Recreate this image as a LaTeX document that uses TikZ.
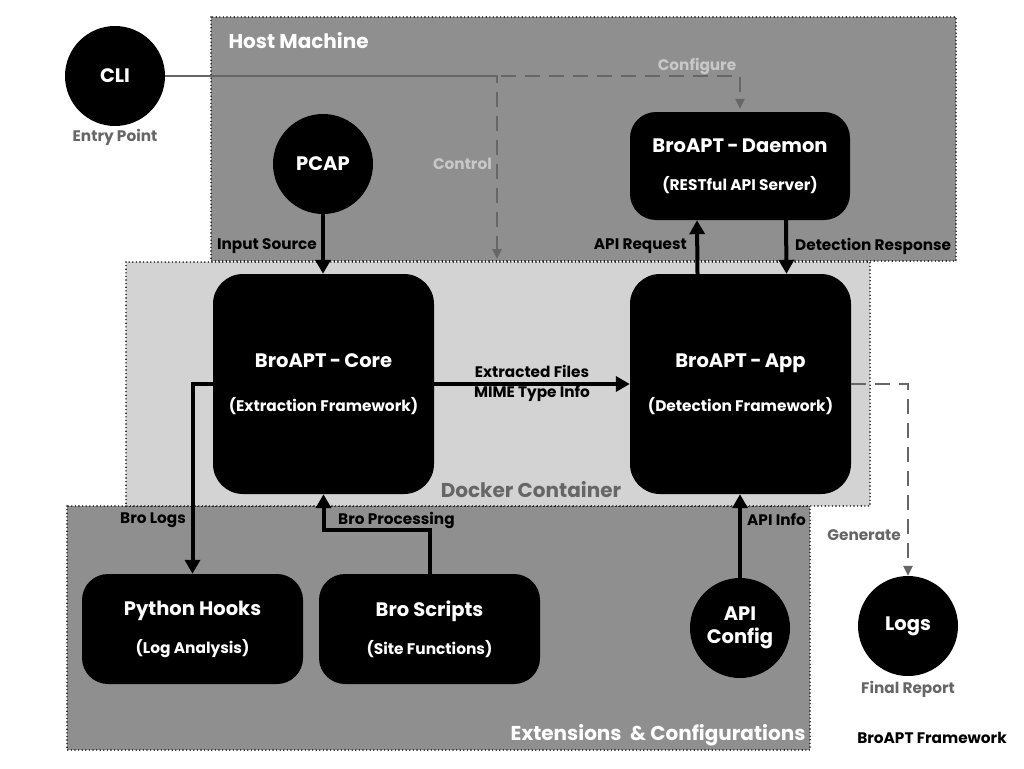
\documentclass[tikz,border=0pt]{standalone}
\usepackage{fontspec}
\setmainfont{Poppins}
\usetikzlibrary{arrows.meta}
\definecolor{hostgray}{HTML}{8F8F8F}
\definecolor{dockgray}{HTML}{D3D3D3}
\definecolor{midgray}{HTML}{666666}
\definecolor{lightlbl}{HTML}{C8C8C8}
\newcommand{\subfnt}{\bfseries\fontsize{15.4}{38}\selectfont}
\begin{document}
\begin{tikzpicture}[x=1pt,y=-1pt,
  region/.style={draw=black, line width=1.6pt, dash pattern=on 0pt off 3.6pt, line cap=round},
  regionlbl/.style={font=\bfseries\fontsize{20}{23}\selectfont},
  blk/.style={fill=black, text=white, rounded corners=30pt, align=center, inner sep=0pt,
     font=\bfseries\fontsize{19.5}{44}\selectfont},
  blksmall/.style={blk, rounded corners=26pt, font=\bfseries\fontsize{19.5}{38}\selectfont},
  circ/.style={circle, fill=black, text=white, minimum size=100pt, inner sep=0pt, align=center,
     font=\bfseries\fontsize{19.5}{23}\selectfont},
  flow/.style={line width=4pt, -{Triangle[length=14pt,width=15pt]}},
  ctrl/.style={line width=2.5pt, midgray, dash pattern=on 15pt off 9pt, -{Triangle[length=10pt,width=9pt]}},
  elbl/.style={font=\bfseries\fontsize{15.3}{17}\selectfont, text=black, inner sep=1pt},
  glbl/.style={font=\bfseries\fontsize{15.3}{17}\selectfont, text=midgray, inner sep=1pt},
  llbl/.style={font=\bfseries\fontsize{15.3}{17}\selectfont, text=lightlbl, inner sep=1pt}
]
\useasboundingbox (0,0) rectangle (1024,768);
\fill[white] (0,0) rectangle (1024,768);

% regions
\fill[hostgray] (211,17) rectangle (956,261);
\draw[region] (211,17) rectangle (956,261);
\fill[hostgray] (67,506) rectangle (810,750);
\draw[region] (67,506) rectangle (810,750);
\fill[dockgray] (126,262) rectangle (870,506);
\draw[region] (126,262) rectangle (870,506);
\node[regionlbl, text=white, anchor=west] (hostlbl) at (225,41) {Host Machine};
\node[regionlbl, text=midgray] (docklbl) at (531,490) {Docker Container};
\node[regionlbl, text=white, anchor=east] (extlbl) at (809,735) {Extensions \ \& Configurations};

% nodes
\node[circ] (cli) at (115,76) {CLI};
\node[glbl] (clilbl) at (115,137) {Entry Point};
\node[circ] (pcap) at (323,164) {PCAP};
\node[blksmall, minimum width=220pt, minimum height=108pt] (daemon) at (740,166)
  {BroAPT\,-\,Daemon\\{\subfnt (RESTful API Server)}};
\node[blk, minimum width=221pt, minimum height=220pt] (core) at (323.5,384)
  {BroAPT\,-\,Core\\{\subfnt (Extraction Framework)}};
\node[blk, minimum width=221pt, minimum height=220pt] (app) at (740.5,384)
  {BroAPT\,-\,App\\{\subfnt (Detection Framework)}};
\node[blksmall, minimum width=221pt, minimum height=110pt] (hooks) at (192.5,629)
  {Python Hooks\\{\subfnt (Log Analysis)}};
\node[blksmall, minimum width=221pt, minimum height=110pt] (scripts) at (429.5,629)
  {Bro Scripts\\{\subfnt (Site Functions)}};
\node[circ] (apicfg) at (740,628) {API\\Config};
\node[circ] (logs) at (908,626) {Logs};
\node[glbl] (logslbl) at (908,689) {Final Report};
\node[elbl] (title) at (932,738) {BroAPT Framework};

% control connectors
\coordinate (ctl) at (497,259);
\draw[ctrl, dash phase=12pt] (cli.east) -| (ctl);
\draw[ctrl, shorten >=3pt] (cli.east) -| (daemon.north);
\node[llbl, anchor=east] (ctllbl) at (493,164) {Control};
\node[llbl] (cfglbl) at (697,66) {Configure};
\draw[ctrl] (app.east) -| (logs.north);
\node[glbl, anchor=east] (genlbl) at (902,535) {Generate};

% data connectors
\draw[flow] (pcap.south) -- (pcap.south |- core.north);
\node[elbl, anchor=east] (inlbl) at (318,246) {Input Source};
\draw[flow] ([xshift=-43pt]app.north) -- ([xshift=-43pt]daemon.south);
\node[elbl, anchor=east] (reqlbl) at (688,246) {API Request};
\draw[flow] ([xshift=46pt]daemon.south) -- ([xshift=46pt]app.north);
\node[elbl, anchor=west] (resplbl) at (794,246) {Detection Response};
\draw[flow] (core.east) -- (app.west);
\node[elbl] (extlbl1) at (532,371) {Extracted Files};
\node[elbl] (extlbl2) at (532,394) {MIME Type Info};
\draw[flow] (core.west) -| (hooks.north);
\node[elbl, anchor=east] (logslbl2) at (187,520) {Bro Logs};
\draw[flow] (scripts.north) -- ++(0,-44) -| (core.south);
\node[elbl, anchor=west] (proclbl) at (337,520) {Bro Processing};
\draw[flow] (apicfg.north) -- (apicfg.north |- app.south);
\node[elbl, anchor=west] (infolbl) at (746,520) {API Info};
\end{tikzpicture}
\end{document}
